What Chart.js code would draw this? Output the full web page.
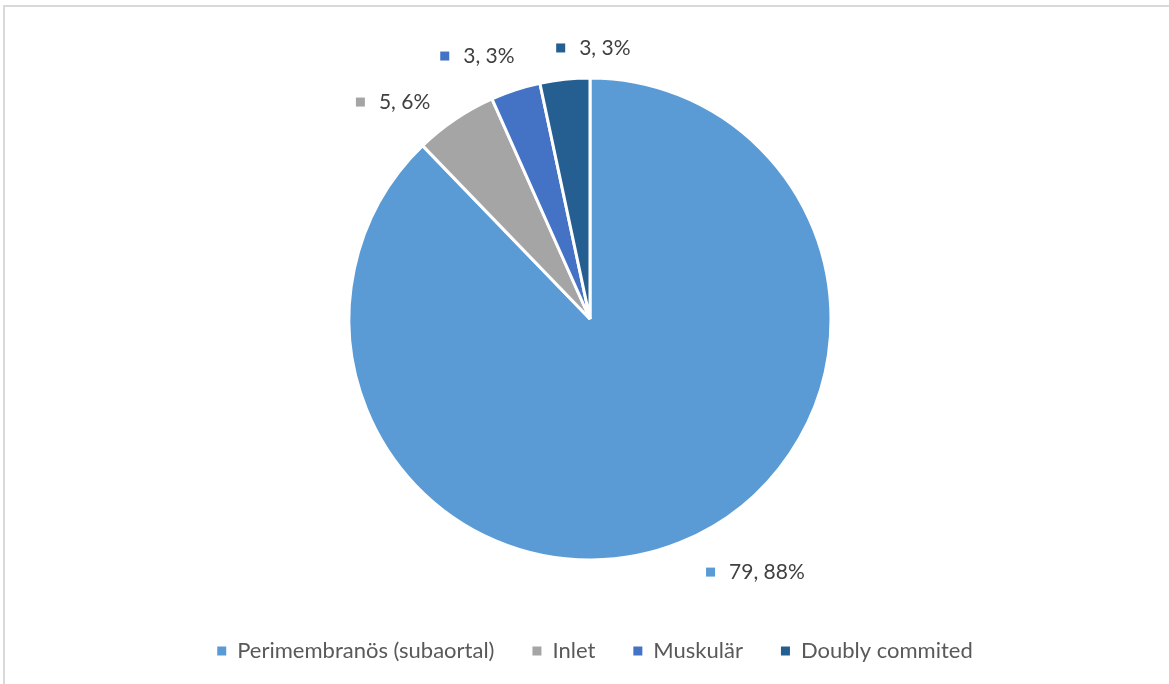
<!DOCTYPE html>
<html>
<head>
<meta charset="utf-8">
<script src="https://cdn.jsdelivr.net/npm/chart.js@4/dist/chart.umd.min.js"></script>
<style>
  html, body { margin: 0; padding: 0; background: #fff; overflow: hidden; }
  #wrap { position: relative; width: 1169px; height: 684px; }
  #frame {
    position: absolute; left: 3px; top: 5px; right: -10px; bottom: -10px;
    border-top: 2px solid #d9d9d9; border-left: 2px solid #d9d9d9;
    pointer-events: none;
  }
</style>
</head>
<body>
<div id="wrap">
  <canvas id="vsd" width="1169" height="684"></canvas>
  <div id="frame"></div>
</div>
<script>
const categories = ['Perimembranös (subaortal)', 'Inlet', 'Muskulär', 'Doubly commited'];
const counts = [79, 5, 3, 3];
const colors = ['#5B9BD5', '#A5A5A5', '#4472C4', '#255E91'];

// "n, p%" labels outside each slice, with a small colour square in front
const sliceLabels = {
  id: 'sliceLabels',
  afterDatasetsDraw(chart, args, opts) {
    const ctx = chart.ctx;
    const meta = chart.getDatasetMeta(0);
    const total = counts.reduce((a, b) => a + b, 0);
    ctx.save();
    ctx.font = opts.size + 'px ' + opts.family;
    ctx.textBaseline = 'middle';
    ctx.textAlign = 'left';
    meta.data.forEach((arc, i) => {
      const p = arc.getProps(['x', 'y', 'startAngle', 'endAngle', 'outerRadius'], true);
      const mid = (p.startAngle + p.endAngle) / 2;
      const ux = Math.cos(mid), uy = Math.sin(mid);
      const text = counts[i] + ', ' + Math.round(counts[i] / total * 100) + '%';
      const w = opts.box + opts.gap + ctx.measureText(text).width;
      const r = p.outerRadius + opts.offset;
      const s = opts.shift[i] || [0, 0];
      const cx = p.x + ux * r + ux * w / 2 + s[0];
      const cy = p.y + uy * r + uy * opts.size / 2 + s[1];
      const left = cx - w / 2;
      ctx.fillStyle = colors[i];
      ctx.fillRect(left, cy - opts.box / 2, opts.box, opts.box);
      ctx.fillStyle = opts.color;
      ctx.fillText(text, left + opts.box + opts.gap, cy);
    });
    ctx.restore();
  }
};

// nudge the legend row a little to the right of the pie's centre line
const legendNudge = {
  id: 'legendNudge',
  afterLayout(chart) {
    chart.legend.left += 5;
    chart.legend.right += 5;
  }
};

new Chart(document.getElementById('vsd'), {
  type: 'pie',
  data: {
    labels: categories,
    datasets: [{
      data: counts,
      backgroundColor: colors,
      borderColor: '#ffffff',
      borderWidth: 3,
      radius: 241
    }]
  },
  plugins: [sliceLabels, legendNudge],
  options: {
    responsive: false,
    animation: false,
    events: [],
    layout: { padding: { top: 36, bottom: 12, left: 20, right: 9 } },
    plugins: {
      tooltip: { enabled: false },
      legend: {
        position: 'bottom',
        labels: {
          color: '#595959',
          font: { family: 'Lato', size: 22 },
          boxWidth: 9,
          boxHeight: 9,
          padding: 38,
          generateLabels(chart) {
            return categories.map((c, i) => ({
              text: c,
              fillStyle: colors[i],
              strokeStyle: colors[i],
              lineWidth: 0,
              fontColor: '#595959',
              hidden: false,
              index: i
            }));
          }
        }
      },
      sliceLabels: {
        family: 'Lato',
        size: 21,
        color: '#404040',
        box: 9,
        gap: 14,
        offset: 15,
        shift: [[51, 6], [-33, 4], [-22, -9.5], [34, -6]]
      }
    }
  }
});
</script>
</body>
</html>
